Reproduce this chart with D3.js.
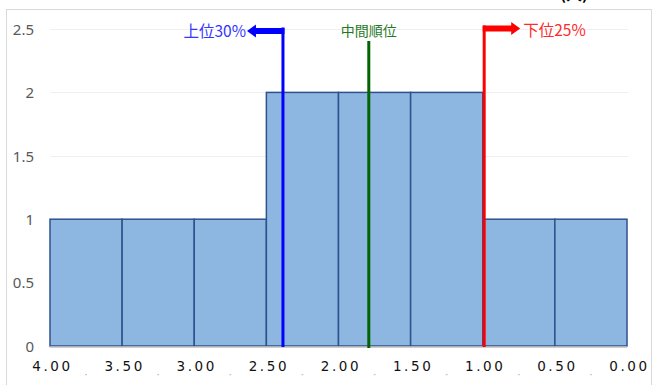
<!DOCTYPE html>
<html>
<head>
<meta charset="utf-8">
<script src="https://cdn.jsdelivr.net/npm/d3@7"></script>
<style>
  html, body { margin: 0; padding: 0; background: #fff; }
  svg { display: block; }
</style>
</head>
<body>
<svg id="chart" width="661" height="385"></svg>
<script>
// ---- data ----
const binStarts = [4.0, 3.5, 3.0, 2.5, 2.0, 1.5, 1.0, 0.5];
const binWidth = 0.5;
const counts = [1, 1, 1, 2, 2, 2, 1, 1];
const xTickValues = [4.0, 3.5, 3.0, 2.5, 2.0, 1.5, 1.0, 0.5, 0.0];
const xTickLabels = ["4.00", "3.50", "3.00", "2.50", "2.00", "1.50", "1.00", "0.50", "0.00"];
const yTickValues = [0, 0.5, 1, 1.5, 2, 2.5];
const markerNames = ["上位30%", "中間順位", "下位25%"];
const markerValues = [2.385, 1.79, 0.99];
const markerColors = ["#0000ff", "#006400", "#ff0000"];
const markerTextColors = ["#3535ff", "#1f7a1f", "#ff2a2a"];
const unitLabel = "(人)";

// ---- layout ----
const svg = d3.select("#chart");
const x = d3.scaleLinear().domain([4, 0]).range([50, 627]);
const y = d3.scaleLinear().domain([0, 2.5]).range([346, 29]);

// chart border
svg.append("rect").attr("x", 6.5).attr("y", 9.5).attr("width", 645).attr("height", 400)
  .attr("fill", "none").attr("stroke", "#d9d9d9").attr("stroke-width", 1);

// unit label (cut off at top, as in the reference)
svg.append("text").attr("x", 574).attr("y", 0).attr("text-anchor", "middle")
  .attr("font-family", "'Noto Sans CJK JP'").attr("font-size", 16).attr("font-weight", "bold")
  .attr("fill", "#000").text(unitLabel);

// gridlines
svg.append("g").selectAll("line").data(yTickValues.filter(d => d > 0)).join("line")
  .attr("x1", 50).attr("x2", 628)
  .attr("y1", d => Math.round(y(d)) + 0.5).attr("y2", d => Math.round(y(d)) + 0.5)
  .attr("stroke", "#efefef").attr("stroke-width", 1);

// y axis labels
const yAxis = d3.axisLeft(y).tickValues(yTickValues).tickSize(0).tickPadding(0)
  .tickFormat(d => d3.format("")(d));
const gy = svg.append("g").attr("transform", "translate(34,0)").call(yAxis);
gy.select(".domain").remove();
gy.selectAll("text").attr("font-family", "'Noto Sans', sans-serif").attr("font-size", 15)
  .attr("fill", "#595959").attr("dy", "0.35em");

// bars
svg.append("g").selectAll("rect").data(binStarts).join("rect")
  .attr("x", d => x(d))
  .attr("y", (d, i) => y(counts[i]))
  .attr("width", d => x(d - binWidth) - x(d))
  .attr("height", (d, i) => y(0) - y(counts[i]))
  .attr("fill", "#8db6e0")
  .attr("stroke", "#2f528f").attr("stroke-width", 1.5);

// baseline
svg.append("line").attr("x1", 50).attr("x2", 627).attr("y1", 347).attr("y2", 347)
  .attr("stroke", "#bfbfbf").attr("stroke-width", 1.5);

// x axis labels
const xAxis = d3.axisBottom(x).tickValues(xTickValues).tickSize(0).tickPadding(0)
  .tickFormat((d, i) => xTickLabels[i]);
const gx = svg.append("g").attr("transform", "translate(2,362)").call(xAxis);
gx.select(".domain").remove();
gx.selectAll("text").attr("font-family", "'DejaVu Sans', sans-serif").attr("font-size", 13.5)
  .attr("letter-spacing", "2.6px").attr("fill", "#111").attr("dy", "0.7em");

// tiny marks at bin midpoints
svg.append("g").selectAll("rect").data(binStarts).join("rect")
  .attr("x", d => x(d - binWidth / 2) - 1).attr("y", 374).attr("width", 2).attr("height", 1.2)
  .attr("fill", "#c8c8c8");

// marker lines
const mg = svg.append("g");
// blue (上位30%) with left arrow
{
  const xv = x(markerValues[0]);
  mg.append("line").attr("x1", xv).attr("x2", xv).attr("y1", 347).attr("y2", 27.5)
    .attr("stroke", markerColors[0]).attr("stroke-width", 3);
  mg.append("rect").attr("x", xv - 28).attr("y", 28).attr("width", 29.5).attr("height", 6)
    .attr("fill", markerColors[0]);
  mg.append("path").attr("d", `M${xv - 36},31 L${xv - 27},24.5 L${xv - 27},37.5 Z`)
    .attr("fill", markerColors[0]);
  mg.append("text").attr("x", xv - 37).attr("y", 36.5).attr("text-anchor", "end")
    .attr("font-family", "'Noto Sans CJK JP'").attr("font-size", 15.5)
    .attr("fill", markerTextColors[0]).text(markerNames[0]);
}
// green (中間順位)
{
  const xv = x(markerValues[1]);
  mg.append("line").attr("x1", xv).attr("x2", xv).attr("y1", 348).attr("y2", 41)
    .attr("stroke", markerColors[1]).attr("stroke-width", 3);
  mg.append("text").attr("x", xv).attr("y", 35.5).attr("text-anchor", "middle")
    .attr("font-family", "'Noto Sans CJK JP'").attr("font-size", 14)
    .attr("fill", markerTextColors[1]).text(markerNames[1]);
}
// red (下位25%) with right arrow
{
  const xv = x(markerValues[2]);
  mg.append("line").attr("x1", xv).attr("x2", xv).attr("y1", 347).attr("y2", 25.5)
    .attr("stroke", markerColors[2]).attr("stroke-width", 3);
  mg.append("rect").attr("x", xv - 1.5).attr("y", 25.5).attr("width", 29.5).attr("height", 6)
    .attr("fill", markerColors[2]);
  mg.append("path").attr("d", `M${xv + 36},28.5 L${xv + 27},22 L${xv + 27},35 Z`)
    .attr("fill", markerColors[2]);
  mg.append("text").attr("x", xv + 39).attr("y", 35.5).attr("text-anchor", "start")
    .attr("font-family", "'Noto Sans CJK JP'").attr("font-size", 15.5)
    .attr("fill", markerTextColors[2]).text(markerNames[2]);
}
</script>
</body>
</html>
